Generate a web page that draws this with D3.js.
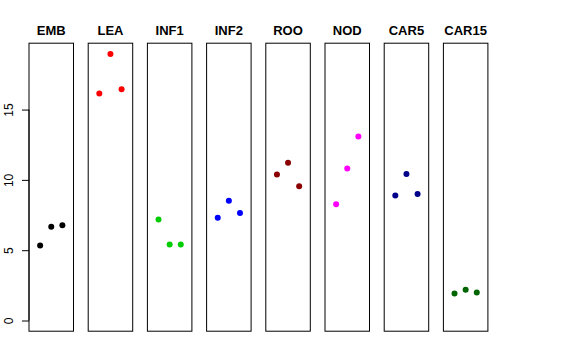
<!DOCTYPE html>
<html><head><meta charset="utf-8">
<script src="https://cdn.jsdelivr.net/npm/d3@7"></script>
<style>body{margin:0;background:#fff}svg{display:block}</style>
</head><body>
<svg id="c" width="576" height="360"></svg>
<script>
const categories = ["EMB","LEA","INF1","INF2","ROO","NOD","CAR5","CAR15"];
const colors = ["#000000","#FF0000","#00CD00","#0000FF","#8B0000","#FF00FF","#00008B","#006400"];
const rep1 = [5.33, 16.15, 7.18, 7.30, 10.38, 8.27, 8.89, 1.92];
const rep2 = [6.67, 18.96, 5.40, 8.51, 11.21, 10.81, 10.41, 2.18];
const rep3 = [6.78, 16.45, 5.40, 7.65, 9.55, 13.09, 9.00, 1.99];
const yTicks = [0, 5, 10, 15];

(function () {
const svg = d3.select("#c");
const plotTop = 43.2, plotBottom = 331.2;
const y = d3.scaleLinear().domain([-0.76, 19.72]).range([plotBottom, plotTop]);
const band = d3.scaleLinear().domain([0, categories.length]).range([29, 29 + 59.2 * categories.length]);
const pw = 44.5;

// y axis
const ax = svg.append("g").attr("transform", "translate(29,0)")
  .call(d3.axisLeft(y).tickValues(yTicks).tickSize(7).tickFormat(d3.format("d")));
ax.select(".domain").attr("d", `M0,${y(0)}V${y(15)}`).attr("stroke", "#000");
ax.selectAll(".tick line").attr("stroke", "#000");
ax.selectAll(".tick text").remove();
ax.selectAll(".tick").append("text")
  .attr("transform", "translate(-16,0) rotate(-90)")
  .attr("text-anchor", "middle").attr("fill", "#000")
  .style("font-family", "Liberation Sans, Arial, sans-serif").style("font-size", "12px")
  .text(d => d);

categories.forEach((cat, i) => {
  const left = band(i);
  const x = d3.scaleLinear().domain([0, 4]).range([left, left + pw]);
  const g = svg.append("g");
  g.append("rect").attr("x", left).attr("y", plotTop).attr("width", pw).attr("height", plotBottom - plotTop)
    .attr("fill", "none").attr("stroke", "#000").attr("stroke-width", 1);
  g.append("text").attr("x", left + pw / 2).attr("y", 34.5).attr("text-anchor", "middle")
    .style("font-family", "Liberation Sans, Arial, sans-serif").style("font-size", "13px")
    .style("font-weight", "bold").text(cat);
  const vals = [rep1[i], rep2[i], rep3[i]];
  g.selectAll("circle").data(vals).join("circle")
    .attr("cx", (d, j) => x(j + 1)).attr("cy", d => y(d)).attr("r", 3)
    .attr("fill", colors[i]);
});
})();
</script>
</body></html>
